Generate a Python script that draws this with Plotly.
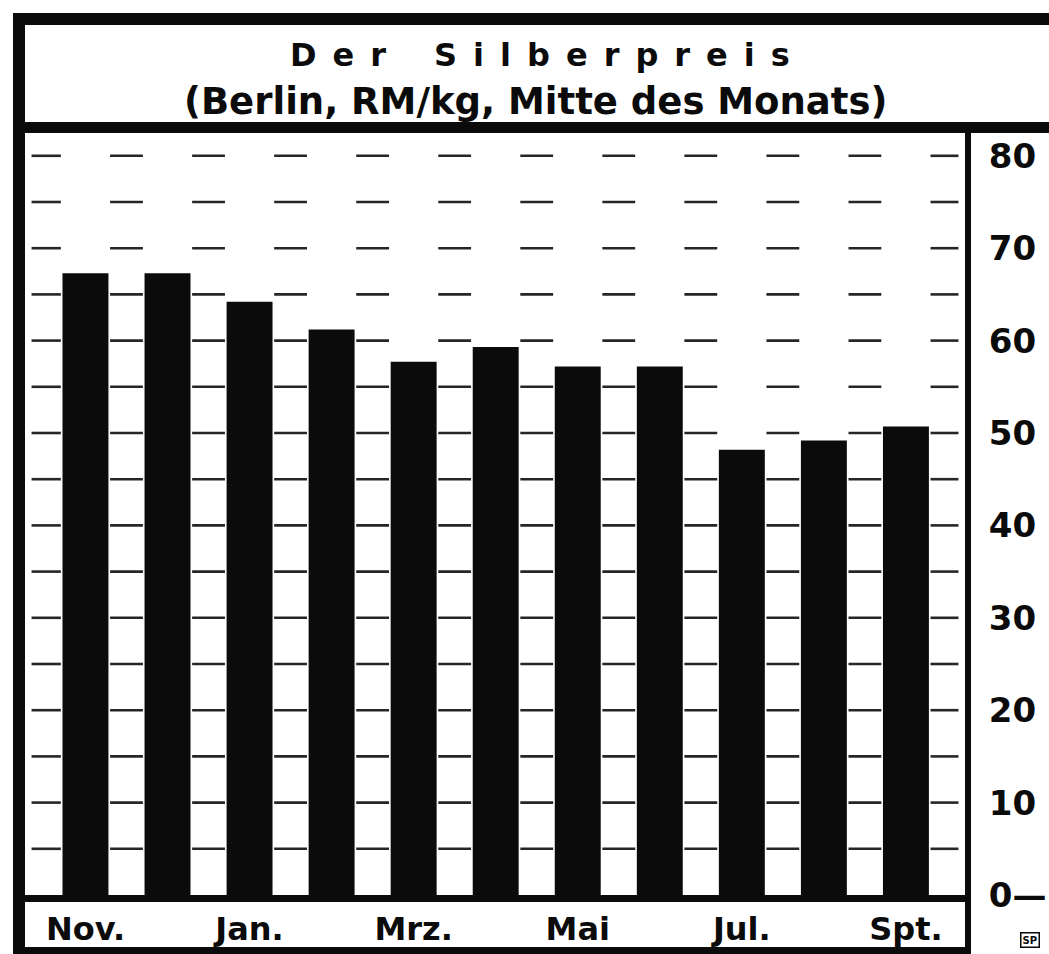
import plotly.graph_objects as go

# ---- data ----
months = ["Nov.", "Dez.", "Jan.", "Feb.", "Mrz.", "Apr.", "Mai", "Jun.", "Jul.", "Aug.", "Spt."]
prices = [67.3, 67.3, 64.2, 61.2, 57.7, 59.3, 57.2, 57.2, 48.2, 49.2, 50.7]
shown_labels = ["Nov.", "Jan.", "Mrz.", "Mai", "Jul.", "Spt."]
y_ticks = [0, 10, 20, 30, 40, 50, 60, 70, 80]
y_tick_text = ["0\u2014", "10", "20", "30", "40", "50", "60", "70", "80"]
grid_values = list(range(5, 85, 5))
title_words = ["Der", "Silberpreis"]
subtitle_text = "(Berlin, RM/kg, Mitte des Monats)"

# ---- geometry (pixels) ----
W, H = 1049, 954
L, R, T, B = 25, 84, 133, 59
PW, PH = W - L - R, H - T - B

def px(x):
    return (x - L) / PW

def py(y):
    return (H - B - y) / PH

FONT = "DejaVu Sans"
BLACK = "#0b0b0b"

xpos = list(range(len(months)))
x_range = [-0.737, 10.72]

# dashed grid: short dashes sitting in the gaps between bars
gx, gy = [], []
half = 0.2
for g in grid_values:
    for i in range(-1, len(months)):
        c = i + 0.5
        a = max(c - half, x_range[0] + 0.08)
        b = min(c + half, x_range[1] - 0.08)
        gx += [a, b, None]
        gy += [g, g, None]

fig = go.Figure()
fig.add_trace(go.Scatter(x=gx, y=gy, mode="lines",
                         line=dict(color="#262626", width=2.6),
                         hoverinfo="skip", showlegend=False))
fig.add_trace(go.Bar(x=xpos, y=prices, width=0.56,
                     marker=dict(color=BLACK, line=dict(width=0)),
                     showlegend=False))

label_pos = [months.index(m) for m in shown_labels]

fig.update_layout(
    width=W, height=H,
    margin=dict(l=L, r=R, t=T, b=B, autoexpand=False),
    paper_bgcolor="white", plot_bgcolor="white",
    xaxis=dict(range=x_range, tickmode="array", tickvals=label_pos,
               ticktext=shown_labels, showgrid=False, zeroline=False,
               automargin=False,
               showline=True, linecolor=BLACK, linewidth=7,
               ticks="", ticklen=0,
               tickfont=dict(family=FONT, size=32, color=BLACK, weight="bold")),
    yaxis=dict(range=[0, PH / 92.4 * 10], side="right", tickmode="array",
               tickvals=y_ticks, ticktext=y_tick_text, showgrid=False,
               zeroline=False, automargin=False,
               showline=True, linecolor=BLACK, linewidth=6,
               ticks="outside", ticklen=11, tickcolor="rgba(0,0,0,0)",
               tickfont=dict(family=FONT, size=34, color=BLACK, weight="bold")),
    bargap=0.44,
)

shapes = []
def rect(x0, y0, x1, y1):
    shapes.append(dict(type="rect", xref="paper", yref="paper",
                       x0=px(x0), x1=px(x1), y0=py(y1), y1=py(y0),
                       fillcolor=BLACK, line=dict(width=0), layer="above"))

rect(13, 13, W, 25)      # top rule
rect(13, 122, W, 133)    # rule under title
rect(13, 13, 25, H)      # left border
rect(13, 947, 971, H)    # bottom rule under labels
rect(965, 133, 971, H)   # right axis line down to bottom
fig.update_layout(shapes=shapes)

sp = "\u2002"
title_text = (sp * 3).join(sp.join(w) for w in title_words)
fig.add_annotation(text=title_text, xref="paper", yref="paper",
                   x=px(540), y=py(55), xanchor="center", yanchor="middle",
                   showarrow=False,
                   font=dict(family=FONT, size=32, color=BLACK, weight="bold"))
fig.add_annotation(text=subtitle_text, xref="paper", yref="paper",
                   x=px(535), y=py(101), xanchor="center", yanchor="middle",
                   showarrow=False,
                   font=dict(family=FONT, size=37, color=BLACK, weight="bold"))
fig.add_annotation(text="SP", xref="paper", yref="paper",
                   x=px(1030), y=py(940), xanchor="center", yanchor="middle",
                   showarrow=False,
                   font=dict(family=FONT, size=10, color=BLACK, weight="bold"),
                   bordercolor=BLACK, borderwidth=1.5, borderpad=1)

fig.write_html(
    "out.html",
    config={"displayModeBar": False},
    post_script=("document.body.style.margin='0';"
                 "document.documentElement.style.overflow='hidden';"
                 "document.body.style.overflow='hidden';"),
)
